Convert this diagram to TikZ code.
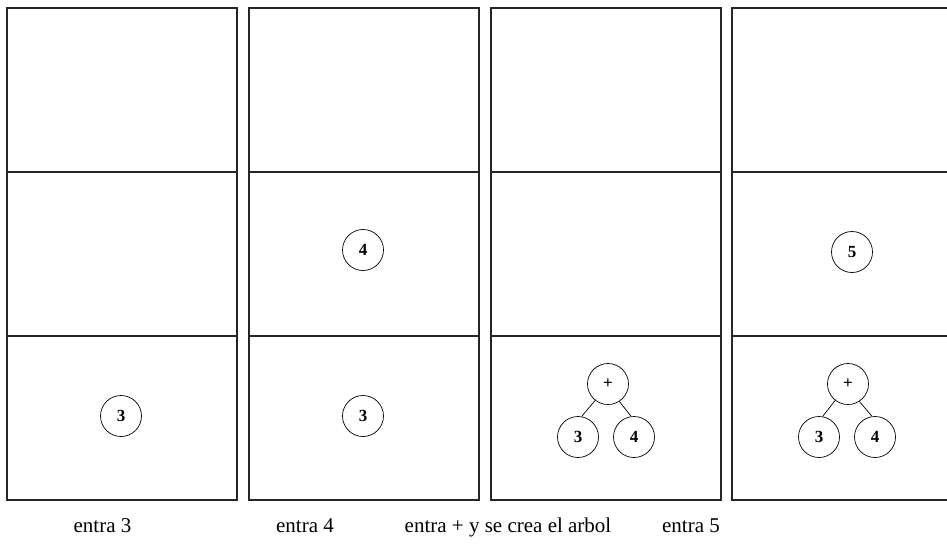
\documentclass[tikz,border=0pt]{standalone}
\usepackage{fontspec}
\setmainfont{Liberation Serif}
\begin{document}
\begin{tikzpicture}[x=1pt,y=-1pt,
  cell/.style={draw=black!85,line width=1.4pt},
  tnode/.style={circle,draw=black,line width=0.7pt,minimum size=41pt,inner sep=0pt,font=\fontsize{17}{17}\selectfont\bfseries},
  edge/.style={draw=black,line width=0.7pt},
  lab/.style={font=\fontsize{21}{21}\selectfont,anchor=base}]
\useasboundingbox (0,0) rectangle (947,546);
\begin{scope}
\clip (0,0) rectangle (947,546);
\foreach \x in {7,249,491,732}{
  \draw[cell] (\x,8) rectangle (\x+230,500);
  \draw[cell] (\x,172) -- (\x+230,172);
  \draw[cell] (\x,336) -- (\x+230,336);
}
\end{scope}
% column 1
\node[tnode] (a3) at (121,416) {3};
% column 2
\node[tnode] (b4) at (363,250) {4};
\node[tnode] (b3) at (363,416) {3};
% column 3
\node[tnode] (cp) at (608,384) {+};
\node[tnode] (c3) at (578,437) {3};
\node[tnode] (c4) at (634,437) {4};
\draw[edge] (cp.232) -- (c3.80);
\draw[edge] (cp.303) -- (c4.98);
% column 4
\node[tnode] (d5) at (852,252) {5};
\node[tnode] (dp) at (848,384) {+};
\node[tnode] (d3) at (819,437) {3};
\node[tnode] (d4) at (875,437) {4};
\draw[edge] (dp.232) -- (d3.80);
\draw[edge] (dp.303) -- (d4.98);
% labels
\node[lab] (l1) at (102.5,532) {entra 3};
\node[lab] (l2) at (305,532) {entra 4};
\node[lab] (l3) at (508,532) {entra + y se crea el arbol};
\node[lab] (l4) at (691,532) {entra 5};
\end{tikzpicture}
\end{document}
